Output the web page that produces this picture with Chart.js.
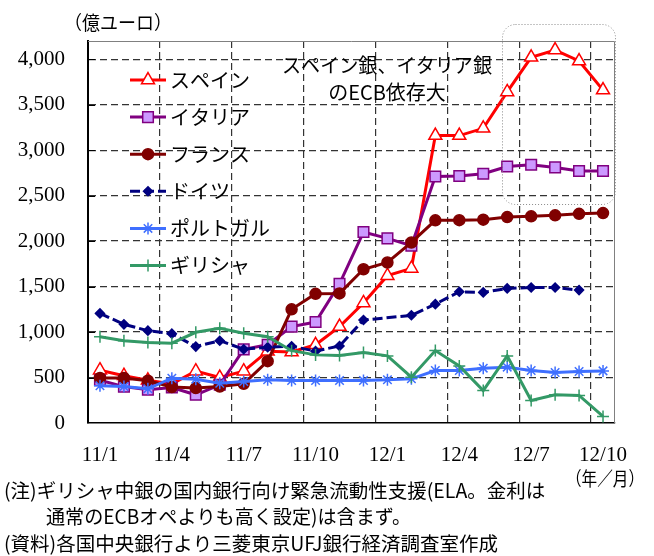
<!DOCTYPE html>
<html>
<head>
<meta charset="utf-8">
<script src="https://cdn.jsdelivr.net/npm/chart.js@4"></script>
<style>
  html, body { margin: 0; padding: 0; background: #fff; }
  canvas { display: block; }
</style>
</head>
<body>
<canvas id="chart" width="654" height="556"></canvas>
<script>
// Monthly categories, Jan 2011 – Oct 2012
const months = ['11/1','11/2','11/3','11/4','11/5','11/6','11/7','11/8','11/9','11/10','11/11','11/12',
                '12/1','12/2','12/3','12/4','12/5','12/6','12/7','12/8','12/9','12/10'];

// Central-bank borrowing from the ECB (100 million euro)
const spain    = [580, 520, 470, 430, 570, 500, 570, 790, 780, 860, 1060, 1320, 1620, 1700, 3160, 3160, 3240, 3640, 4020, 4100, 3980, 3660];
const italy    = [470, 400, 365, 390, 310, 420, 810, 860, 1060, 1110, 1530, 2100, 2030, 1950, 2710, 2715, 2740, 2820, 2840, 2810, 2770, 2770];
const france   = [495, 495, 465, 395, 384, 401, 431, 680, 1250, 1420, 1425, 1690, 1765, 1985, 2228, 2230, 2236, 2264, 2272, 2283, 2300, 2308];
const germany  = [1205, 1085, 1015, 982, 840, 905, 811, 833, 844, 790, 847, 1132, null, 1184, 1307, 1443, 1436, 1480, 1490, 1490, 1461, null];
const portugal = [409, 401, 376, 493, 482, 438, 456, 475, 467, 467, 467, 467, 475, 486, 577, 577, 603, 614, 577, 555, 566, 573];
const greece   = [949, 905, 886, 877, 997, 1041, 986, 949, 795, 749, 741, 774, 738, 504, 796, 628, 357, 738, 248, 310, 303, 72];

const seriesNames = ['スペイン', 'イタリア', 'フランス', 'ドイツ', 'ポルトガル', 'ギリシャ'];
const yTickValues = [0, 500, 1000, 1500, 2000, 2500, 3000, 3500, 4000];
const yMax = 4200;

const unitLabel = '（億ユーロ）';
const periodLabel = '（年／月）';
const calloutLines = ['スペイン銀、イタリア銀', 'のECB依存大'];
const noteLines = [
  '(注)ギリシャ中銀の国内銀行向け緊急流動性支援(ELA。金利は',
  '通常のECBオペよりも高く設定)は含まず。',
  '(資料)各国中央銀行より三菱東京UFJ銀行経済調査室作成'
];

const SERIF = '"Liberation Serif", "Noto Sans CJK JP", serif';
const JP = '"Noto Sans CJK JP", "Liberation Serif", sans-serif';

function series(label, data, color, extra) {
  return Object.assign({
    label, data,
    borderColor: color,
    borderWidth: 3,
    pointBorderColor: color,
    pointBackgroundColor: color,
    pointBorderWidth: 1.5,
    tension: 0,
    spanGaps: true
  }, extra);
}

const datasets = [
  series(seriesNames[0], spain, '#ff0000', { pointStyle: 'triangle', pointRadius: 7.5, pointBackgroundColor: '#ffffff', order: 5 }),
  series(seriesNames[1], italy, '#800080', { pointStyle: 'rect', pointRadius: 7.5, pointBackgroundColor: '#cc99ff', order: 4 }),
  series(seriesNames[2], france, '#800000', { pointStyle: 'circle', pointRadius: 5.5, order: 3 }),
  series(seriesNames[3], germany, '#000080', { pointStyle: 'rectRot', pointRadius: 4.5, borderDash: [10, 4], order: 2 }),
  series(seriesNames[4], portugal, '#3f6fff', { pointStyle: 'star', pointRadius: 6, pointBorderWidth: 1.5, order: 1 }),
  series(seriesNames[5], greece, '#339966', { pointStyle: 'cross', pointRadius: 6, pointBorderWidth: 1.5, order: 0 })
];

// Frame, inner ticks, legend, callout and notes
const decorations = {
  id: 'decorations',
  beforeDatasetsDraw(chart) {
    const { ctx, chartArea: a, scales: { y } } = chart;
    ctx.save();
    // grey top / right frame
    ctx.strokeStyle = '#808080';
    ctx.lineWidth = 1;
    ctx.beginPath();
    ctx.moveTo(a.left, a.top + 0.5);
    ctx.lineTo(a.right - 0.5, a.top + 0.5);
    ctx.lineTo(a.right - 0.5, a.bottom);
    ctx.stroke();
    // inward tick marks on the value axis
    ctx.strokeStyle = '#000';
    yTickValues.slice(1).forEach((v) => {
      const py = Math.round(y.getPixelForValue(v)) + 0.5;
      ctx.beginPath();
      ctx.moveTo(a.left, py);
      ctx.lineTo(a.left + 7, py);
      ctx.stroke();
    });
    ctx.restore();
  },
  afterDraw(chart) {
    const { ctx } = chart;
    ctx.save();
    ctx.fillStyle = '#000';
    ctx.textBaseline = 'middle';

    // unit label
    ctx.font = '19px ' + JP;
    ctx.textAlign = 'left';
    ctx.fillText(unitLabel, 64, 23, 108);

    // legend
    const lx0 = 130, lx1 = 166, step = 37.1, top = 80;
    chart.data.datasets.forEach((ds, i) => {
      const ly = top + i * step;
      ctx.save();
      ctx.strokeStyle = ds.borderColor;
      ctx.lineWidth = ds.borderWidth;
      ctx.setLineDash(ds.borderDash || []);
      ctx.beginPath();
      ctx.moveTo(lx0, ly);
      ctx.lineTo(lx1, ly);
      ctx.stroke();
      ctx.setLineDash([]);
      ctx.fillStyle = ds.pointBackgroundColor;
      ctx.strokeStyle = ds.pointBorderColor;
      ctx.lineWidth = ds.pointBorderWidth;
      Chart.helpers.drawPoint(ctx, {
        pointStyle: ds.pointStyle, radius: ds.pointRadius,
        borderWidth: ds.pointBorderWidth, rotation: 0
      }, (lx0 + lx1) / 2, ly);
      ctx.restore();
      ctx.font = '20px ' + JP;
      ctx.textAlign = 'left';
      ctx.fillStyle = '#000';
      ctx.fillText(ds.label, 170, ly);
    });

    // callout
    ctx.font = '20px ' + JP;
    ctx.textAlign = 'center';
    ctx.fillText(calloutLines[0], 387, 65, 210);
    ctx.fillText(calloutLines[1], 387, 92, 140);

    // dotted rounded box around the latest Spain / Italy readings
    ctx.save();
    ctx.strokeStyle = '#8a8a8a';
    ctx.lineWidth = 1;
    ctx.setLineDash([1, 2]);
    ctx.beginPath();
    ctx.roundRect(502.5, 24.5, 113, 180, 13);
    ctx.stroke();
    ctx.restore();

    // period label and notes
    ctx.textAlign = 'left';
    ctx.font = '19px ' + JP;
    ctx.fillText(periodLabel, 566, 479, 78);
    ctx.font = '19.5px ' + JP;
    ctx.fillText(noteLines[0], 4, 491, 550);
    ctx.fillText(noteLines[1], 46, 517, 365);
    ctx.fillText(noteLines[2], 4, 544, 520);
    ctx.restore();
  }
};

new Chart(document.getElementById('chart'), {
  type: 'line',
  data: { labels: months, datasets },
  plugins: [decorations],
  options: {
    responsive: false,
    animation: false,
    layout: { padding: { top: 41, right: 39, left: 0, bottom: 0 } },
    plugins: { legend: { display: false }, tooltip: { enabled: false } },
    elements: { line: { borderCapStyle: 'butt', borderJoinStyle: 'miter' } },
    scales: {
      x: {
        type: 'category',
        offset: true,
        afterFit(scale) { scale.height = 133; },
        grid: {
          offset: true,
          drawTicks: false,
          lineWidth: 1.2,
          color: (c) => (c.index > 0 && c.index % 3 === 0) ? '#333' : 'rgba(0,0,0,0)'
        },
        border: { display: true, color: '#000', width: 1.5, dash: [7, 4] },
        ticks: {
          autoSkip: false,
          maxRotation: 0,
          minRotation: 0,
          padding: 20,
          color: '#000',
          font: { family: SERIF, size: 21 },
          callback: (v, i) => (i % 3 === 0 ? months[i] : '')
        }
      },
      y: {
        type: 'linear',
        min: 0,
        max: yMax,
        afterFit(scale) { scale.width = 88; },
        afterBuildTicks(scale) { scale.ticks = yTickValues.map((v) => ({ value: v })); },
        grid: {
          drawTicks: false,
          lineWidth: 1.2,
          color: (c) => (c.tick && c.tick.value > 0) ? '#333' : 'rgba(0,0,0,0)'
        },
        border: { display: true, color: '#000', width: 2, dash: [7, 4] },
        ticks: {
          autoSkip: false,
          padding: 23,
          color: '#000',
          font: { family: SERIF, size: 21 },
          callback: (v) => Number(v).toLocaleString('en-US')
        }
      }
    }
  }
});
</script>
</body>
</html>
